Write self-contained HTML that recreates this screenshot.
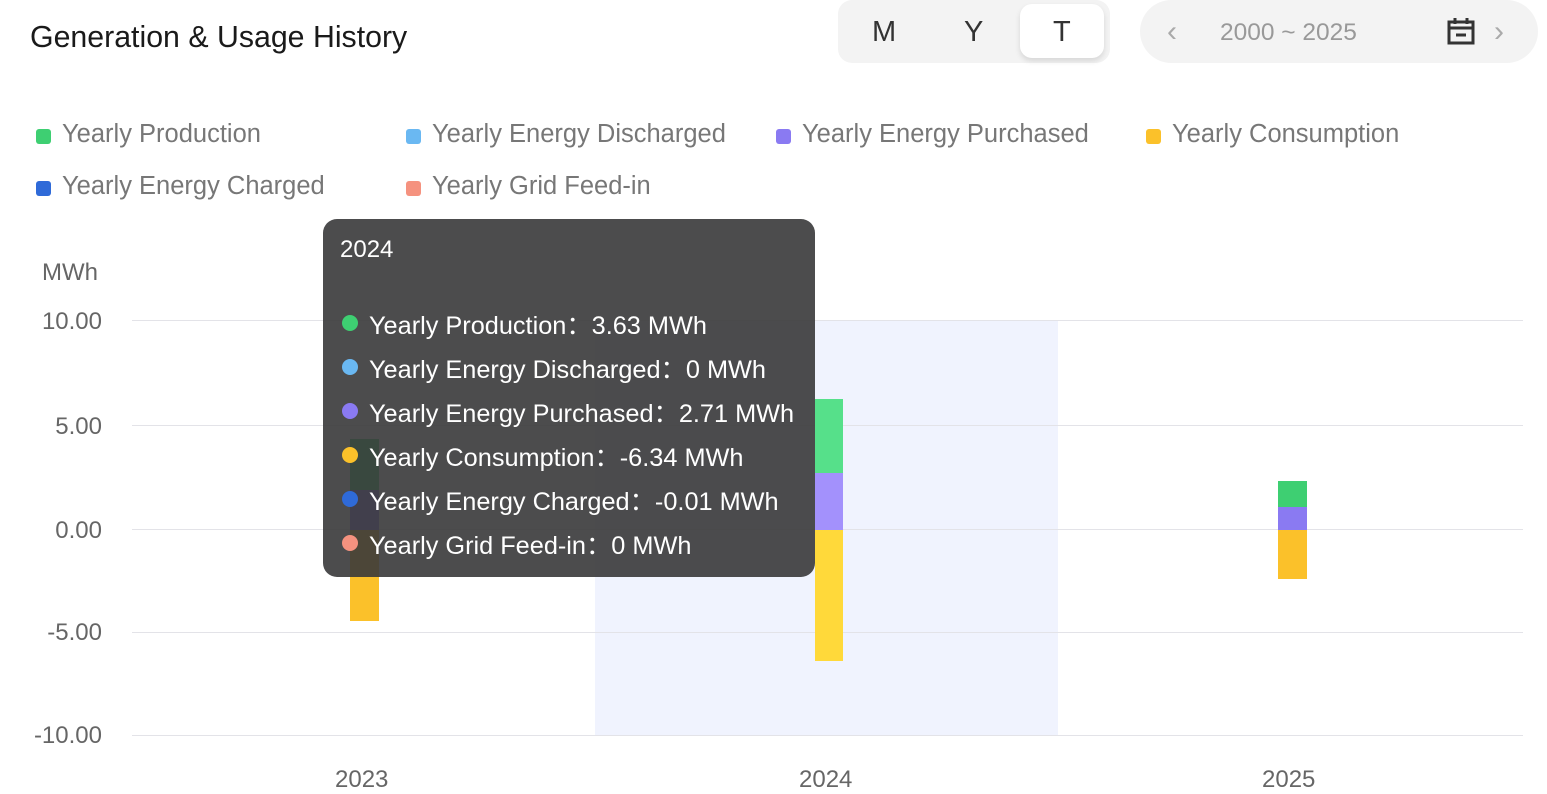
<!DOCTYPE html>
<html><head><meta charset="utf-8"><style>
*{margin:0;padding:0;box-sizing:border-box}
body{width:1547px;height:792px;background:#fff;font-family:"Liberation Sans",sans-serif;position:relative;overflow:hidden}
.a{position:absolute}
.title{left:30px;top:21px;font-size:30.3px;color:#1a1a1a}
.seg{left:838px;top:0;width:272px;height:63px;background:#f3f3f3;border-radius:14px}
.seg span{position:absolute;top:16px;font-size:29px;color:#333}
.tsel{left:1020px;top:4px;width:84px;height:54px;background:#fff;border-radius:12px;box-shadow:0 3px 6px rgba(0,0,0,.12)}
.range{left:1140px;top:0;width:398px;height:63px;background:#f3f3f3;border-radius:32px}
.leg{font-size:25.5px;color:#777}
.sq{position:absolute;width:15px;height:15px;border-radius:3px}
.yl{font-size:24px;color:#666;text-align:right;width:72px;left:30px}
.gl{left:132px;width:1391px;height:1px;background:#e3e3e8}
.xl{font-size:24px;color:#666}
.tip{left:323px;top:219px;width:492px;height:358px;background:rgba(56,56,58,.9);border-radius:14px;color:#fff;font-size:25.3px}
.tip div{position:absolute;left:46px}
.dot{position:absolute;left:19px;width:16px;height:16px;border-radius:50%}
</style></head><body>
<div class="a title">Generation &amp; Usage History</div>
<div class="a seg"></div>
<div class="a tsel"></div>
<div class="a seg" style="background:none"><span style="left:34px">M</span><span style="left:126px">Y</span><span style="left:215px">T</span></div>
<div class="a range"></div>
<div class="a" style="left:1167px;top:15px;font-size:30px;color:#aaa">&lsaquo;</div>
<div class="a" style="left:1220px;top:19px;font-size:24.5px;color:#999">2000 ~ 2025</div>
<svg class="a" style="left:1446px;top:16px" width="30" height="30" viewBox="0 0 30 30"><rect x="3" y="6" width="24" height="21" fill="none" stroke="#333" stroke-width="3"/><line x1="3" y1="12" x2="27" y2="12" stroke="#333" stroke-width="3"/><line x1="9" y1="2" x2="9" y2="8" stroke="#333" stroke-width="3"/><line x1="21" y1="2" x2="21" y2="8" stroke="#333" stroke-width="3"/><line x1="10" y1="19" x2="20" y2="19" stroke="#333" stroke-width="3"/></svg>
<div class="a" style="left:1494px;top:15px;font-size:30px;color:#aaa">&rsaquo;</div>

<div class="sq" style="left:36px;top:129px;background:#3ecf72"></div><div class="a leg" style="left:62px;top:120px">Yearly Production</div>
<div class="sq" style="left:406px;top:129px;background:#6ab8f2"></div><div class="a leg" style="left:432px;top:120px">Yearly Energy Discharged</div>
<div class="sq" style="left:776px;top:129px;background:#8a7af2"></div><div class="a leg" style="left:802px;top:120px">Yearly Energy Purchased</div>
<div class="sq" style="left:1146px;top:129px;background:#fbc12a"></div><div class="a leg" style="left:1172px;top:120px">Yearly Consumption</div>
<div class="sq" style="left:36px;top:181px;background:#2f6ad8"></div><div class="a leg" style="left:62px;top:172px">Yearly Energy Charged</div>
<div class="sq" style="left:406px;top:181px;background:#f5927f"></div><div class="a leg" style="left:432px;top:172px">Yearly Grid Feed-in</div>

<div class="a" style="left:42px;top:259px;font-size:24px;color:#666">MWh</div>
<div class="a" style="left:595px;top:321px;width:463px;height:415px;background:#f0f3fe"></div>
<div class="a gl" style="top:320px"></div><div class="a gl" style="top:425px"></div><div class="a gl" style="top:529px"></div><div class="a gl" style="top:632px"></div><div class="a gl" style="top:735px"></div>
<div class="a yl" style="top:308px">10.00</div><div class="a yl" style="top:413px">5.00</div><div class="a yl" style="top:517px">0.00</div><div class="a yl" style="top:619px">-5.00</div><div class="a yl" style="top:722px">-10.00</div>
<div class="a xl" style="left:335px;top:766px">2023</div><div class="a xl" style="left:799px;top:766px">2024</div><div class="a xl" style="left:1262px;top:766px">2025</div>

<div class="a" style="left:350px;top:439px;width:29px;height:51px;background:#3ecf72"></div>
<div class="a" style="left:350px;top:490px;width:29px;height:40px;background:#8a7af2"></div>
<div class="a" style="left:350px;top:530px;width:29px;height:91px;background:#fbc12a"></div>
<div class="a" style="left:815px;top:399px;width:28px;height:74px;background:#56e08a"></div>
<div class="a" style="left:815px;top:473px;width:28px;height:57px;background:#a391fc"></div>
<div class="a" style="left:815px;top:530px;width:28px;height:131px;background:#ffd93a"></div>
<div class="a" style="left:1278px;top:481px;width:29px;height:26px;background:#3ecf72"></div>
<div class="a" style="left:1278px;top:507px;width:29px;height:23px;background:#8a7af2"></div>
<div class="a" style="left:1278px;top:530px;width:29px;height:49px;background:#fbc12a"></div>

<div class="a tip">
<div style="left:17px;top:17px;font-size:24px">2024</div>
<span class="dot" style="top:96px;background:#3ecf72"></span><div style="top:87px">Yearly Production：3.63 MWh</div>
<span class="dot" style="top:140px;background:#6ab8f2"></span><div style="top:131px">Yearly Energy Discharged：0 MWh</div>
<span class="dot" style="top:184px;background:#8a7af2"></span><div style="top:175px">Yearly Energy Purchased：2.71 MWh</div>
<span class="dot" style="top:228px;background:#fbc12a"></span><div style="top:219px">Yearly Consumption：-6.34 MWh</div>
<span class="dot" style="top:272px;background:#2f6ad8"></span><div style="top:263px">Yearly Energy Charged：-0.01 MWh</div>
<span class="dot" style="top:316px;background:#f5927f"></span><div style="top:307px">Yearly Grid Feed-in：0 MWh</div>
</div>
</body></html>
